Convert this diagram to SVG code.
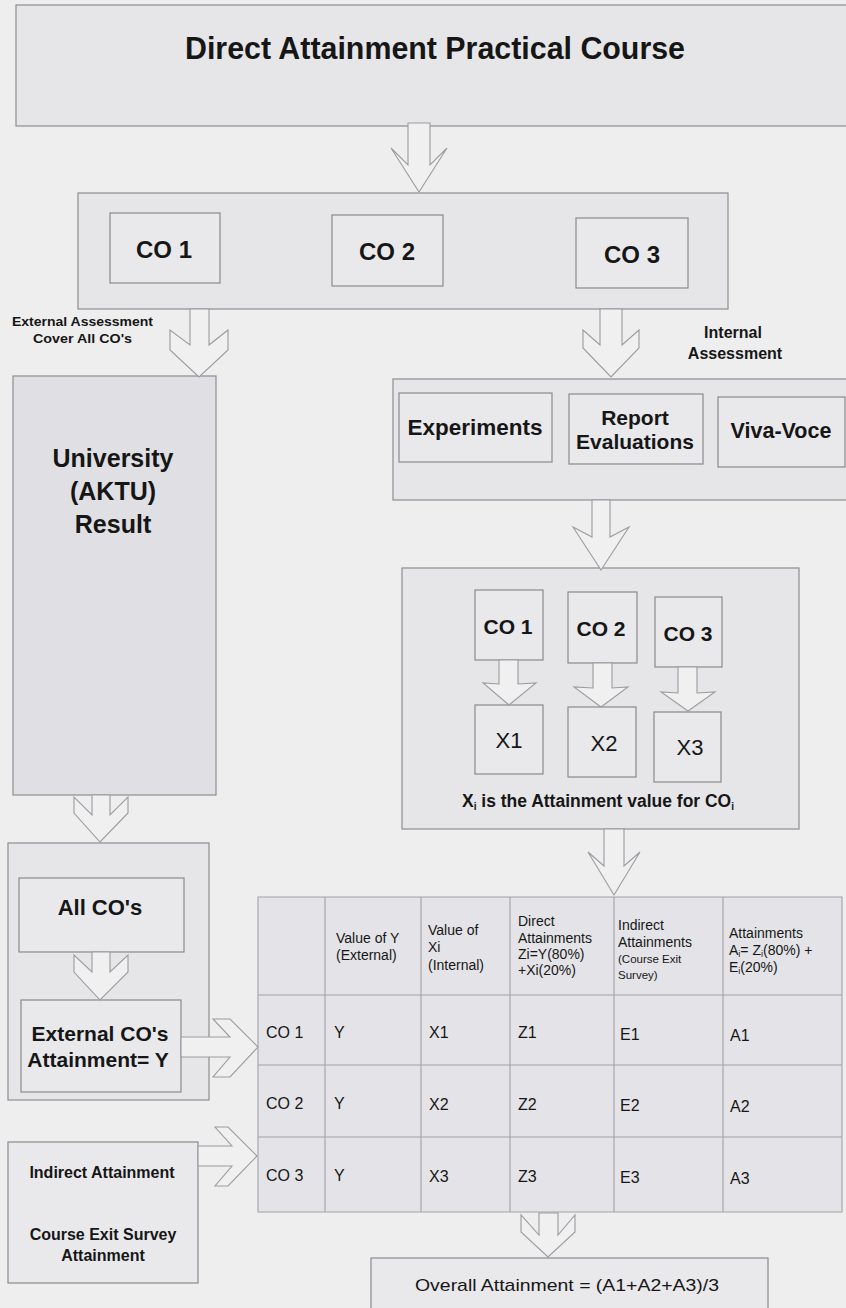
<svg xmlns="http://www.w3.org/2000/svg" width="846" height="1308" viewBox="0 0 846 1308">
<style>
.bg{fill:#eeeeef}
.box{fill:#e6e6e9;stroke:#8e8e92;stroke-width:1.2}
.inner{fill:#e9e9ec;stroke:#8a8a8e;stroke-width:1.2}
.arr{fill:#f0f0f1;stroke:#9c9ca0;stroke-width:1.1;stroke-linejoin:miter}
.grid{stroke:#a2a2a6;stroke-width:1.1;fill:none}
text{font-family:"Liberation Sans",Arial,sans-serif;fill:#161616}
.b{font-weight:bold}
.c{text-anchor:middle}
.tb{font-size:14px}
.td{font-size:16px}
.sm{font-size:11.5px}
</style>
<rect class="bg" x="0" y="0" width="846" height="1308"/>

<g id="title">
<rect class="box" x="16" y="5" width="840" height="121"/>
<text class="b" x="185" y="59" font-size="32" textLength="500" lengthAdjust="spacingAndGlyphs">Direct Attainment Practical Course</text>
</g>

<g id="co-row">
<rect class="box" x="78" y="193" width="650" height="116"/>
<g id="co1"><rect class="inner" x="110" y="213" width="110" height="70"/><text class="b c" x="164" y="258" font-size="24">CO 1</text></g>
<g id="co2"><rect class="inner" x="332" y="215" width="111" height="71"/><text class="b c" x="387" y="260" font-size="24">CO 2</text></g>
<g id="co3"><rect class="inner" x="576" y="218" width="112" height="70"/><text class="b c" x="632" y="263" font-size="24">CO 3</text></g>
</g>

<g id="label-external">
<text class="b" x="12" y="326" font-size="13" textLength="141" lengthAdjust="spacingAndGlyphs">External Assessment</text>
<text class="b" x="33" y="343" font-size="13" textLength="99" lengthAdjust="spacingAndGlyphs">Cover All CO's</text>
</g>
<g id="label-internal">
<text class="b c" x="733" y="338" font-size="16">Internal</text>
<text class="b c" x="735" y="359" font-size="16">Assessment</text>
</g>

<g id="university">
<rect class="box" x="13" y="376" width="203" height="419" style="fill:#e0e0e4"/>
<text class="b c" x="113" y="467" font-size="25">University</text>
<text class="b c" x="113" y="500" font-size="25">(AKTU)</text>
<text class="b c" x="113" y="533" font-size="25">Result</text>
</g>

<g id="internal">
<rect class="box" x="393" y="379" width="460" height="121"/>
<g id="experiments"><rect class="inner" x="399" y="393" width="153" height="69"/><text class="b c" x="475" y="435" font-size="22.5">Experiments</text></g>
<g id="report"><rect class="inner" x="569" y="394" width="134" height="70"/><text class="b c" x="635" y="425" font-size="21">Report</text><text class="b c" x="635" y="449" font-size="21">Evaluations</text></g>
<g id="viva"><rect class="inner" x="718" y="397" width="127" height="70"/><text class="b c" x="781" y="438" font-size="21.5">Viva-Voce</text></g>
</g>

<g id="cox">
<rect class="box" x="402" y="568" width="397" height="261"/>
<g id="ico1"><rect class="inner" x="475" y="590" width="68" height="70"/><text class="b c" x="508" y="634" font-size="21">CO 1</text></g>
<g id="ico2"><rect class="inner" x="568" y="592" width="69" height="71"/><text class="b c" x="601" y="636" font-size="21">CO 2</text></g>
<g id="ico3"><rect class="inner" x="655" y="597" width="67" height="70"/><text class="b c" x="688" y="641" font-size="21">CO 3</text></g>
<g id="x1"><rect class="inner" x="475" y="705" width="68" height="69"/><text class="c" x="509" y="748" font-size="22">X1</text></g>
<g id="x2"><rect class="inner" x="568" y="707" width="68" height="70"/><text class="c" x="604" y="751" font-size="22">X2</text></g>
<g id="x3"><rect class="inner" x="654" y="712" width="67" height="70"/><text class="c" x="690" y="755" font-size="22">X3</text></g>
<text class="b" x="462" y="807" font-size="17.5" textLength="272" lengthAdjust="spacingAndGlyphs">X<tspan font-size="10" dy="3">i</tspan><tspan dy="-3"> is the Attainment value for CO</tspan><tspan font-size="10" dy="3">i</tspan></text>
</g>

<g id="ext-container">
<rect class="box" x="8" y="843" width="201" height="257"/>
<g id="allcos"><rect class="inner" x="19" y="878" width="165" height="74"/><text class="b c" x="100" y="915" font-size="22">All CO's</text></g>
<g id="extatt"><rect class="inner" x="21" y="1000" width="160" height="92"/><text class="b c" x="100" y="1041" font-size="21">External CO's</text><text class="b c" x="98" y="1067" font-size="21">Attainment= Y</text></g>
</g>

<g id="indirect">
<rect class="inner" x="8" y="1142" width="190" height="141"/>
<text class="b c" x="102" y="1178" font-size="16">Indirect Attainment</text>
<text class="b c" x="103" y="1240" font-size="16">Course Exit Survey</text>
<text class="b c" x="103" y="1261" font-size="16">Attainment</text>
</g>

<g id="table">
<rect x="258" y="897" width="584" height="315" fill="#e4e4e8"/>
<path class="grid" d="M258,897H842V1212H258Z M325,897V1212 M421,897V1212 M510,897V1212 M614,897V1212 M723,897V1212 M258,995H842 M258,1065H842 M258,1137H842"/>
<text class="tb" x="336" y="943">Value of Y</text>
<text class="tb" x="336" y="960">(External)</text>
<text class="tb" x="428" y="935">Value of</text>
<text class="tb" x="428" y="952">Xi</text>
<text class="tb" x="428" y="970">(Internal)</text>
<text class="tb" x="518" y="926">Direct</text>
<text class="tb" x="518" y="943">Attainments</text>
<text class="tb" x="518" y="959">Zi=Y(80%)</text>
<text class="tb" x="518" y="975">+Xi(20%)</text>
<text class="tb" x="618" y="930">Indirect</text>
<text class="tb" x="618" y="947">Attainments</text>
<text class="sm" x="618" y="963">(Course Exit</text>
<text class="sm" x="618" y="979">Survey)</text>
<text class="tb" x="729" y="938">Attainments</text>
<text class="tb" x="729" y="955">A<tspan font-size="9" dy="2">i</tspan><tspan dy="-2">= Z</tspan><tspan font-size="9" dy="2">i</tspan><tspan dy="-2">(80%) +</tspan></text>
<text class="tb" x="729" y="972">E<tspan font-size="9" dy="2">i</tspan><tspan dy="-2">(20%)</tspan></text>
<text class="td" x="266" y="1038">CO 1</text><text class="td" x="334" y="1038">Y</text><text class="td" x="429" y="1038">X1</text><text class="td" x="518" y="1038">Z1</text><text class="td" x="620" y="1040">E1</text><text class="td" x="730" y="1041">A1</text>
<text class="td" x="266" y="1109">CO 2</text><text class="td" x="334" y="1109">Y</text><text class="td" x="429" y="1110">X2</text><text class="td" x="518" y="1110">Z2</text><text class="td" x="620" y="1111">E2</text><text class="td" x="730" y="1112">A2</text>
<text class="td" x="266" y="1181">CO 3</text><text class="td" x="334" y="1181">Y</text><text class="td" x="429" y="1182">X3</text><text class="td" x="518" y="1182">Z3</text><text class="td" x="620" y="1183">E3</text><text class="td" x="730" y="1184">A3</text>
</g>

<g id="overall">
<rect class="inner" x="371" y="1258" width="397" height="56"/>
<text x="415" y="1291" font-size="17" textLength="304" lengthAdjust="spacingAndGlyphs">Overall Attainment = (A1+A2+A3)/3</text>
</g>

<g id="connectors">
<path class="arr" d="M408,123V165L391,148L419,192L447,148L430,165V123Z"/>
<path class="arr" d="M190,309V345L170,330V350L199,377L228,350V330L209,345V309Z"/>
<path class="arr" d="M600,309V345L583,330V348L611,377L639,348V330L622,345V309Z"/>
<path class="arr" d="M592,500V537L573,527L601,570L629,527L610,537V500Z"/>
<path class="arr" d="M92,795V815L74,797V813L100,842L128,813V797L110,815V795Z"/>
<path class="arr" d="M92,952V972L74,955V972L100,1000L128,972V955L110,972V952Z"/>
<path class="arr" d="M499,660V684L483,683L509,705L536,683L518,684V660Z"/>
<path class="arr" d="M593,663V688L574,687L601,707L628,687L612,688V663Z"/>
<path class="arr" d="M678,667V693L661,692L688,711L715,692L697,693V667Z"/>
<path class="arr" d="M604,829V866L588,852L614,895L640,852L624,866V829Z"/>
<path class="arr" d="M181,1037H230L213,1019H230L258,1047L230,1077H213L230,1057H181Z"/>
<path class="arr" d="M198,1146H232L215,1127H228L257,1156L228,1186H215L232,1166H198Z"/>
<path class="arr" d="M539,1213V1235L521,1215V1232L548,1257L575,1232V1215L558,1235V1213Z"/>
</g>
</svg>
